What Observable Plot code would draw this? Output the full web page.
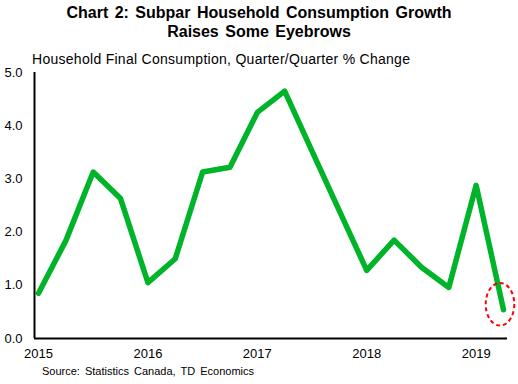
<!DOCTYPE html>
<html>
<head>
<meta charset="utf-8">
<script src="https://cdn.jsdelivr.net/npm/d3@7"></script>
<script src="https://cdn.jsdelivr.net/npm/@observablehq/plot@0.6"></script>
<style>
  html, body { margin: 0; padding: 0; background: #fff; }
  #chart { position: relative; width: 518px; height: 384px; font-family: "Liberation Sans", Arial, sans-serif; color: #000; overflow: hidden; }
  #title { position: absolute; left: 0; top: 4px; width: 518px; text-align: center; font-weight: bold; font-size: 16px; line-height: 18.5px; word-spacing: 2px; }
  #subtitle { position: absolute; left: 32px; top: 51px; font-size: 14px; line-height: 16px; white-space: nowrap; letter-spacing: 0.28px; }
  #plot { position: absolute; left: 0; top: 56px; }
  #source { position: absolute; left: 42px; top: 365px; font-size: 11px; line-height: 12px; white-space: nowrap; word-spacing: 2px; }
</style>
</head>
<body>
<div id="chart">
  <div id="title">Chart 2: Subpar Household Consumption Growth<br>Raises Some Eyebrows</div>
  <div id="subtitle">Household Final Consumption, Quarter/Quarter % Change</div>
  <div id="plot"></div>
  <div id="source">Source: Statistics Canada, TD Economics</div>
</div>
<script>
// Data
const quarters = ["2015Q1","2015Q2","2015Q3","2015Q4","2016Q1","2016Q2","2016Q3","2016Q4",
                  "2017Q1","2017Q2","2017Q3","2017Q4","2018Q1","2018Q2","2018Q3","2018Q4",
                  "2019Q1","2019Q2"];
const growth = [0.85, 1.84, 3.13, 2.63, 1.05, 1.50, 3.13, 3.22,
                4.25, 4.65, 3.52, 2.40, 1.28, 1.85, 1.34, 0.96,
                2.88, 0.54];
const yearTicks = [2015, 2016, 2017, 2018, 2019];
const valueTicks = [0, 1, 2, 3, 4, 5];

const toT = q => +q.slice(0, 4) + (+q.slice(5) - 1) / 4;
const data = quarters.map((q, i) => ({q, t: toT(q), v: growth[i]}));

const svgTop = 56;
const plot = Plot.plot({
  width: 518,
  height: 310,
  marginTop: 72 - svgTop,
  marginBottom: 56 + 310 - 338,
  marginLeft: 34,
  marginRight: 11,
  style: {fontFamily: "Liberation Sans, Arial, sans-serif", fontSize: "13px", color: "#000", background: "transparent", overflow: "visible"},
  x: {type: "linear", domain: [2014.9634, 2019.2866], label: null},
  y: {domain: [0, 5], label: null},
  marks: [
    Plot.axisX({ticks: yearTicks, tickFormat: d => String(d), tickSize: 0, tickPadding: 10, fontSize: 13, label: null}),
    Plot.axisY({ticks: valueTicks, tickFormat: d => d.toFixed(1), tickSize: 0, tickPadding: 12, fontSize: 13, label: null}),
    Plot.line(data, {x: "t", y: "v", stroke: "#00b42a", strokeWidth: 5.5, strokeLinejoin: "round", strokeLinecap: "round"}),
    Plot.ruleX([2014.9634], {stroke: "#000", strokeWidth: 2}),
    Plot.ruleY([0], {stroke: "#000", strokeWidth: 2})
  ]
});
document.getElementById("plot").appendChild(plot);

// Dashed ellipse highlighting the latest quarter, positioned through the plot's scales
const last = data[data.length - 1];
const sx = plot.scale("x"), sy = plot.scale("y");
const cx = sx.apply(last.t) - 3, cy = sy.apply(last.v) - 5;
d3.select(plot).append("ellipse")
  .attr("cx", cx).attr("cy", cy).attr("rx", 14.3).attr("ry", 21.3)
  .attr("fill", "none").attr("stroke", "#ff0000").attr("stroke-width", 2)
  .attr("stroke-dasharray", "4,3");
</script>
</body>
</html>
